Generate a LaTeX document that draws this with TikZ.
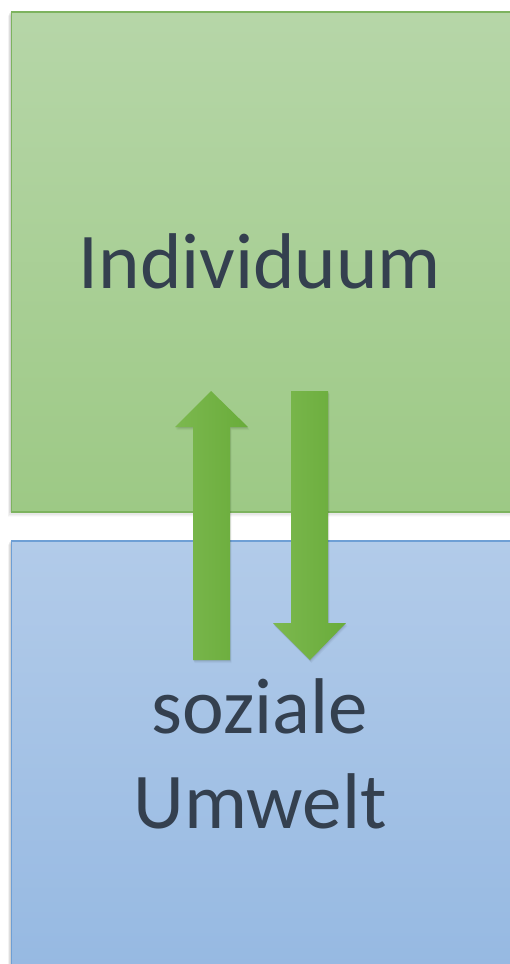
\documentclass[tikz,border=0pt]{standalone}
\usepackage{fontspec}
\setmainfont{Carlito}
\definecolor{gtop}{HTML}{B6D6A8}
\definecolor{gbot}{HTML}{9DC985}
\definecolor{gborder}{HTML}{7DB35F}
\definecolor{btop}{HTML}{B2CBE9}
\definecolor{bbot}{HTML}{96B9E2}
\definecolor{bborder}{HTML}{6E9FD5}
\definecolor{aleft}{HTML}{7CB84F}
\definecolor{aright}{HTML}{69AC3A}
\definecolor{txt}{HTML}{34404F}
\tikzset{
  boxlabel/.style={text=txt, font=\fontsize{79}{95}\selectfont, align=center, inner sep=0pt},
  arrowbody/.style={left color=aleft, right color=aright, draw=none}
}
\begin{document}
\begin{tikzpicture}[x=1pt,y=-1pt]
\useasboundingbox (0,0) rectangle (509,964);
% shadows of boxes
\foreach \d/\o in {1/0.06,2/0.05,3/0.04,4/0.03,5/0.02}{
  \fill[black, opacity=\o] (10.5-\d*0.6,11+\d) rectangle (512,511+\d*1.2);
  \fill[black, opacity=\o] (10.5-\d*0.6,540+\d) rectangle (512,970);
}
% green box
\node[draw=gborder, line width=1.8pt, top color=gtop, bottom color=gbot,
      minimum width=500pt, minimum height=500pt, inner sep=0pt, anchor=north west]
      (ind) at (10.5,11) {};
% blue box
\node[draw=bborder, line width=1.8pt, top color=btop, bottom color=bbot,
      minimum width=500pt, minimum height=430pt, inner sep=0pt, anchor=north west]
      (soz) at (10.5,540) {};
% texts
\node[boxlabel, anchor=base] (indtext) at (260,288) {Individuum};
\node[boxlabel, anchor=base] (soztext) at (260,828) {soziale\\Umwelt};
% arrow shadows
\foreach \d/\o in {1/0.07,2/0.05,3/0.03}{
  \fill[black, opacity=\o] (193+\d*0.5,660+\d) -- (193+\d*0.5,427+\d) -- (175+\d*0.5,427+\d) -- (211+\d*0.5,391+\d) -- (248+\d*0.5,427+\d) -- (230+\d*0.5,427+\d) -- (230+\d*0.5,660+\d) -- cycle;
  \fill[black, opacity=\o] (291+\d*0.5,391+\d) -- (328+\d*0.5,391+\d) -- (328+\d*0.5,623+\d) -- (346+\d*0.5,623+\d) -- (310+\d*0.5,660+\d) -- (273+\d*0.5,623+\d) -- (291+\d*0.5,623+\d) -- cycle;
}
% up arrow
\shade[arrowbody] (193,660) -- (193,427) -- (175,427) -- (211,391) -- (248,427) -- (230,427) -- (230,660) -- cycle;
% down arrow
\shade[arrowbody] (291,391) -- (328,391) -- (328,623) -- (346,623) -- (310,660) -- (273,623) -- (291,623) -- cycle;
\end{tikzpicture}
\end{document}
